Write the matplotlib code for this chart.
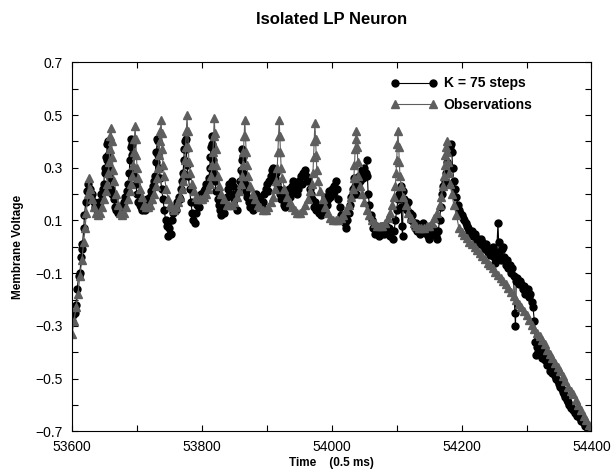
import matplotlib
matplotlib.use("Agg")
import matplotlib.pyplot as plt
from matplotlib.ticker import MultipleLocator, FixedLocator

plt.rcParams['font.family'] = ['Liberation Sans', 'DejaVu Sans']

obs_points = [
    (53600, -0.33), (53603, -0.28), (53606, -0.23), (53609, -0.18), (53612, -0.11),
    (53615, -0.05), (53618, 0.02), (53620, 0.07), (53622, 0.13), (53624, 0.20),
    (53626, 0.26), (53628, 0.22), (53631, 0.18), (53634, 0.15), (53637, 0.13),
    (53640, 0.12), (53643, 0.13), (53646, 0.15), (53649, 0.18), (53652, 0.21),
    (53654, 0.24), (53656, 0.28), (53657, 0.32), (53658, 0.37), (53659, 0.42),
    (53660, 0.45), (53661, 0.40), (53662, 0.34), (53663, 0.29), (53665, 0.25),
    (53668, 0.20), (53671, 0.16), (53674, 0.13), (53677, 0.12), (53680, 0.13),
    (53683, 0.15), (53686, 0.18), (53689, 0.21), (53691, 0.24), (53693, 0.27),
    (53694, 0.31), (53695, 0.36), (53696, 0.41), (53697, 0.46), (53698, 0.41),
    (53699, 0.35), (53700, 0.30), (53702, 0.26), (53705, 0.22), (53708, 0.19),
    (53711, 0.16), (53714, 0.15), (53717, 0.15), (53720, 0.16), (53723, 0.18),
    (53726, 0.20), (53729, 0.23), (53731, 0.26), (53733, 0.30), (53734, 0.35),
    (53735, 0.40), (53736, 0.44), (53737, 0.48), (53738, 0.43), (53739, 0.37),
    (53740, 0.31), (53742, 0.27), (53745, 0.22), (53748, 0.18), (53751, 0.16),
    (53754, 0.15), (53757, 0.14), (53760, 0.15), (53763, 0.17), (53766, 0.19),
    (53769, 0.22), (53771, 0.25), (53773, 0.28), (53774, 0.33), (53775, 0.38),
    (53776, 0.44), (53777, 0.50), (53778, 0.44), (53779, 0.38), (53780, 0.32),
    (53782, 0.28), (53785, 0.24), (53788, 0.21), (53791, 0.19), (53794, 0.18),
    (53797, 0.18), (53800, 0.18), (53803, 0.19), (53806, 0.20), (53809, 0.22),
    (53812, 0.24), (53814, 0.27), (53816, 0.31), (53817, 0.36), (53818, 0.42),
    (53819, 0.49), (53820, 0.43), (53821, 0.37), (53822, 0.31), (53824, 0.27),
    (53827, 0.23), (53830, 0.20), (53834, 0.18), (53838, 0.16), (53842, 0.16),
    (53846, 0.16), (53850, 0.17), (53854, 0.19), (53857, 0.21), (53860, 0.24),
    (53862, 0.27), (53863, 0.31), (53864, 0.36), (53865, 0.42), (53866, 0.48),
    (53867, 0.42), (53868, 0.36), (53869, 0.31), (53871, 0.27), (53874, 0.23),
    (53878, 0.20), (53882, 0.18), (53886, 0.16), (53890, 0.15), (53894, 0.14),
    (53898, 0.14), (53902, 0.15), (53906, 0.17), (53909, 0.19), (53912, 0.22),
    (53914, 0.25), (53916, 0.30), (53917, 0.36), (53918, 0.42), (53919, 0.48),
    (53920, 0.42), (53921, 0.36), (53922, 0.30), (53924, 0.26), (53927, 0.22),
    (53931, 0.19), (53935, 0.17), (53939, 0.15), (53943, 0.14), (53947, 0.13),
    (53951, 0.13), (53955, 0.14), (53959, 0.16), (53963, 0.18), (53966, 0.21),
    (53969, 0.24), (53971, 0.28), (53972, 0.34), (53973, 0.40), (53974, 0.47),
    (53975, 0.41), (53976, 0.35), (53977, 0.29), (53979, 0.25), (53982, 0.21),
    (53986, 0.18), (53990, 0.15), (53994, 0.13), (53998, 0.11), (54002, 0.10),
    (54006, 0.10), (54010, 0.10), (54014, 0.11), (54018, 0.12), (54022, 0.14),
    (54026, 0.16), (54029, 0.19), (54032, 0.22), (54034, 0.26), (54035, 0.31),
    (54036, 0.37), (54037, 0.41), (54038, 0.44), (54039, 0.38), (54040, 0.32),
    (54041, 0.27), (54043, 0.23), (54046, 0.20), (54050, 0.17), (54054, 0.14),
    (54058, 0.12), (54062, 0.10), (54066, 0.09), (54070, 0.08), (54074, 0.08),
    (54078, 0.08), (54082, 0.09), (54086, 0.11), (54090, 0.13), (54093, 0.16),
    (54096, 0.19), (54098, 0.23), (54099, 0.28), (54100, 0.33), (54101, 0.39),
    (54102, 0.44), (54103, 0.38), (54104, 0.32), (54105, 0.27), (54107, 0.23),
    (54110, 0.19), (54114, 0.16), (54118, 0.13), (54122, 0.11), (54126, 0.09),
    (54130, 0.08), (54134, 0.07), (54138, 0.07), (54142, 0.07), (54146, 0.08),
    (54150, 0.08), (54154, 0.09), (54158, 0.11), (54162, 0.13), (54166, 0.16),
    (54169, 0.19), (54171, 0.23), (54173, 0.27), (54174, 0.31), (54175, 0.35),
    (54176, 0.38), (54177, 0.40), (54178, 0.36), (54179, 0.32), (54180, 0.28),
    (54182, 0.24), (54185, 0.20), (54188, 0.16), (54192, 0.12), (54196, 0.07),
    (54200, 0.055), (54204, 0.045), (54208, 0.035), (54212, 0.02), (54216, 0.01),
    (54220, 0.0), (54224, -0.012), (54228, -0.024), (54232, -0.036), (54236, -0.047),
    (54240, -0.06), (54244, -0.07), (54248, -0.082), (54252, -0.094), (54256, -0.105),
    (54260, -0.117), (54264, -0.13), (54268, -0.142), (54272, -0.155), (54276, -0.17),
    (54280, -0.185), (54284, -0.20), (54288, -0.215), (54292, -0.23), (54296, -0.245),
    (54300, -0.26), (54304, -0.278), (54308, -0.295), (54312, -0.31), (54316, -0.325),
    (54320, -0.34), (54324, -0.355), (54328, -0.37), (54332, -0.39), (54336, -0.405),
    (54340, -0.42), (54344, -0.44), (54348, -0.455), (54352, -0.47), (54356, -0.49),
    (54360, -0.51), (54364, -0.53), (54368, -0.545), (54372, -0.56), (54376, -0.58),
    (54380, -0.60), (54384, -0.62), (54388, -0.64), (54392, -0.655), (54396, -0.675),
    (54400, -0.69),
]

# model prediction with K = 75 steps
model_points = [
    (53600, -0.28), (53602, -0.26), (53604, -0.25), (53606, -0.22), (53608, -0.16),
    (53610, -0.11), (53612, -0.10), (53614, -0.04), (53615, -0.01), (53616, 0.01),
    (53618, 0.07), (53619, 0.12), (53621, 0.17), (53623, 0.21), (53625, 0.24),
    (53627, 0.22), (53629, 0.19), (53631, 0.20), (53633, 0.17), (53635, 0.15),
    (53637, 0.16), (53639, 0.14), (53641, 0.17), (53643, 0.17), (53645, 0.20),
    (53647, 0.22), (53649, 0.24), (53650, 0.30), (53651, 0.28), (53652, 0.34),
    (53653, 0.33), (53654, 0.39), (53655, 0.40), (53656, 0.35), (53657, 0.30),
    (53658, 0.26), (53660, 0.22), (53662, 0.20), (53664, 0.18), (53666, 0.15),
    (53668, 0.14), (53670, 0.13), (53672, 0.14), (53674, 0.13), (53676, 0.14),
    (53678, 0.16), (53680, 0.17), (53682, 0.19), (53684, 0.21), (53686, 0.24),
    (53688, 0.28), (53689, 0.33), (53690, 0.38), (53691, 0.41), (53692, 0.39),
    (53693, 0.35), (53694, 0.30), (53696, 0.27), (53698, 0.24), (53700, 0.20),
    (53702, 0.17), (53704, 0.16), (53706, 0.15), (53708, 0.14), (53710, 0.15),
    (53712, 0.14), (53714, 0.16), (53716, 0.18), (53718, 0.17), (53720, 0.19),
    (53722, 0.21), (53724, 0.23), (53726, 0.25), (53728, 0.27), (53729, 0.32),
    (53730, 0.36), (53731, 0.41), (53732, 0.40), (53733, 0.35), (53734, 0.30),
    (53736, 0.26), (53738, 0.22), (53740, 0.18), (53742, 0.14), (53744, 0.10),
    (53746, 0.08), (53748, 0.04), (53750, 0.07), (53752, 0.05), (53754, 0.10),
    (53756, 0.13), (53758, 0.15), (53760, 0.14), (53762, 0.17), (53764, 0.19),
    (53766, 0.18), (53768, 0.22), (53770, 0.25), (53771, 0.28), (53772, 0.33),
    (53773, 0.37), (53774, 0.40), (53775, 0.41), (53776, 0.37), (53777, 0.31),
    (53779, 0.27), (53781, 0.22), (53783, 0.17), (53785, 0.13), (53787, 0.10),
    (53789, 0.09), (53791, 0.13), (53793, 0.16), (53795, 0.15), (53797, 0.18),
    (53799, 0.20), (53801, 0.19), (53803, 0.21), (53805, 0.22), (53807, 0.24),
    (53809, 0.23), (53811, 0.26), (53812, 0.30), (53813, 0.34), (53814, 0.38),
    (53815, 0.42), (53816, 0.39), (53817, 0.33), (53818, 0.28), (53820, 0.25),
    (53822, 0.21), (53824, 0.18), (53826, 0.16), (53828, 0.14), (53830, 0.12),
    (53832, 0.15), (53834, 0.13), (53836, 0.16), (53838, 0.19), (53840, 0.22),
    (53842, 0.24), (53844, 0.20), (53846, 0.25), (53848, 0.23), (53850, 0.18),
    (53852, 0.20), (53854, 0.14), (53856, 0.22), (53858, 0.25), (53860, 0.29),
    (53861, 0.33), (53862, 0.37), (53863, 0.34), (53864, 0.28), (53866, 0.24),
    (53868, 0.21), (53870, 0.19), (53872, 0.17), (53874, 0.15), (53876, 0.16),
    (53878, 0.14), (53880, 0.17), (53882, 0.18), (53884, 0.20), (53886, 0.17),
    (53888, 0.19), (53890, 0.16), (53892, 0.15), (53894, 0.17), (53896, 0.20),
    (53898, 0.22), (53900, 0.24), (53902, 0.21), (53904, 0.25), (53906, 0.27),
    (53908, 0.29), (53910, 0.30), (53912, 0.26), (53914, 0.28), (53916, 0.24),
    (53918, 0.22), (53920, 0.20), (53922, 0.18), (53924, 0.20), (53926, 0.16),
    (53928, 0.15), (53930, 0.18), (53932, 0.20), (53934, 0.22), (53936, 0.19),
    (53938, 0.23), (53940, 0.25), (53942, 0.21), (53944, 0.24), (53946, 0.20),
    (53948, 0.22), (53950, 0.25), (53952, 0.27), (53954, 0.24), (53956, 0.28),
    (53958, 0.29), (53960, 0.27), (53962, 0.25), (53964, 0.26), (53966, 0.22),
    (53968, 0.20), (53970, 0.18), (53972, 0.15), (53974, 0.17), (53976, 0.14),
    (53978, 0.16), (53980, 0.13), (53982, 0.15), (53984, 0.12), (53986, 0.14),
    (53988, 0.17), (53990, 0.19), (53992, 0.16), (53994, 0.18), (53996, 0.21),
    (53998, 0.19), (54000, 0.22), (54002, 0.20), (54004, 0.23), (54006, 0.25),
    (54008, 0.22), (54010, 0.18), (54012, 0.15), (54014, 0.12), (54016, 0.10),
    (54018, 0.12), (54020, 0.09), (54022, 0.07), (54024, 0.10), (54026, 0.13),
    (54028, 0.16), (54030, 0.19), (54032, 0.22), (54034, 0.26), (54036, 0.23),
    (54038, 0.20), (54040, 0.24), (54042, 0.27), (54044, 0.25), (54046, 0.29),
    (54048, 0.26), (54050, 0.30), (54052, 0.28), (54054, 0.33), (54055, 0.27),
    (54056, 0.20), (54058, 0.16), (54060, 0.12), (54062, 0.10), (54064, 0.07),
    (54066, 0.05), (54068, 0.08), (54070, 0.06), (54072, 0.04), (54074, 0.07),
    (54076, 0.05), (54078, 0.08), (54080, 0.05), (54082, 0.07), (54084, 0.08),
    (54086, 0.05), (54088, 0.07), (54090, 0.04), (54092, 0.06), (54094, 0.03),
    (54096, 0.06), (54098, 0.10), (54100, 0.14), (54102, 0.18), (54104, 0.20),
    (54106, 0.23), (54107, 0.15), (54108, 0.08), (54109, 0.04), (54110, 0.21),
    (54112, 0.18), (54114, 0.16), (54116, 0.14), (54118, 0.17), (54120, 0.13),
    (54122, 0.10), (54124, 0.12), (54126, 0.09), (54128, 0.07), (54130, 0.09),
    (54132, 0.06), (54134, 0.08), (54136, 0.05), (54138, 0.07), (54140, 0.09),
    (54142, 0.06), (54144, 0.08), (54146, 0.05), (54148, 0.04), (54150, 0.03),
    (54152, 0.06), (54154, 0.05), (54156, 0.07), (54158, 0.05), (54160, 0.04),
    (54162, 0.03), (54164, 0.06), (54166, 0.10), (54168, 0.15), (54170, 0.20),
    (54172, 0.23), (54174, 0.25), (54176, 0.28), (54178, 0.32), (54180, 0.36),
    (54182, 0.38), (54184, 0.39), (54185, 0.36), (54186, 0.30), (54188, 0.25),
    (54190, 0.22), (54192, 0.19), (54194, 0.16), (54196, 0.14), (54198, 0.13),
    (54200, 0.12), (54202, 0.11), (54204, 0.10), (54206, 0.09), (54208, 0.08),
    (54210, 0.07), (54212, 0.06), (54214, 0.05), (54216, 0.06), (54218, 0.04),
    (54220, 0.05), (54222, 0.03), (54224, 0.02), (54226, 0.03), (54228, 0.01),
    (54230, 0.03), (54232, 0.02), (54234, 0.0), (54236, -0.01), (54238, 0.01),
    (54240, -0.02), (54242, -0.01), (54244, -0.03), (54246, -0.02), (54248, 0.00),
    (54250, -0.04), (54252, -0.06), (54254, -0.02), (54256, 0.09), (54257, 0.02),
    (54258, -0.03), (54260, -0.05), (54262, -0.01), (54264, 0.00), (54266, -0.04),
    (54268, -0.07), (54270, -0.05), (54272, -0.08), (54274, -0.07), (54276, -0.10),
    (54278, -0.08), (54280, -0.11), (54282, -0.25), (54283, -0.30), (54284, -0.13),
    (54286, -0.12), (54288, -0.14), (54290, -0.13), (54292, -0.14), (54294, -0.16),
    (54296, -0.15), (54298, -0.18), (54300, -0.17), (54302, -0.16), (54304, -0.19),
    (54306, -0.18), (54308, -0.21), (54310, -0.23), (54312, -0.28), (54313, -0.36),
    (54314, -0.41), (54316, -0.38), (54318, -0.40), (54320, -0.37), (54322, -0.39),
    (54324, -0.42), (54326, -0.40), (54328, -0.43), (54330, -0.42), (54332, -0.45),
    (54334, -0.44), (54336, -0.47), (54338, -0.46), (54340, -0.48), (54342, -0.47),
    (54344, -0.49), (54346, -0.50), (54348, -0.51), (54350, -0.52), (54352, -0.53),
    (54354, -0.54), (54356, -0.55), (54358, -0.56), (54360, -0.57), (54362, -0.58),
    (54364, -0.59), (54366, -0.60), (54368, -0.61), (54370, -0.61), (54372, -0.62),
    (54374, -0.63), (54376, -0.63), (54378, -0.64), (54380, -0.64), (54382, -0.65),
    (54384, -0.66), (54386, -0.66), (54388, -0.67), (54390, -0.68), (54392, -0.68),
    (54394, -0.69), (54396, -0.69), (54398, -0.70), (54400, -0.70),
]

x_ticks = [53600, 53800, 54000, 54200, 54400]
y_ticks = [-0.7, -0.5, -0.3, -0.1, 0.1, 0.3, 0.5, 0.7]

obs_t = [p[0] for p in obs_points]
obs_v = [p[1] for p in obs_points]
mod_t = [p[0] for p in model_points]
mod_v = [p[1] for p in model_points]

fig = plt.figure(figsize=(6.11, 4.72), dpi=100)
ax = fig.add_axes([0.118, 0.086, 0.850, 0.782])

ax.plot(mod_t, mod_v, '-o', color='black', lw=0.8, markersize=5,
        label='K = 75 steps')
ax.plot(obs_t, obs_v, '-^', color='#5e5e5e', lw=0.8, markersize=5.5,
        label='Observations')

ax.set_xlim(53600, 54400)
ax.set_ylim(-0.7, 0.7)
ax.xaxis.set_major_locator(FixedLocator(x_ticks))
ax.xaxis.set_minor_locator(MultipleLocator(100))
ax.yaxis.set_major_locator(FixedLocator(y_ticks))
ax.yaxis.set_minor_locator(MultipleLocator(0.1))
ax.set_yticklabels([f"{v:.1f}".replace('-', '\u2212') for v in y_ticks])
ax.tick_params(which='both', direction='in', top=True, right=True,
               labelsize=10, length=4, width=0.8)
ax.tick_params(axis='x', pad=6)
ax.tick_params(axis='y', pad=7)

ax.set_xlabel('Time    (0.5 ms)', fontsize=8.5, fontweight='bold', labelpad=2)
ax.set_ylabel('Membrane Voltage', fontsize=8.5, fontweight='bold', labelpad=8)
fig.suptitle('Isolated LP Neuron', fontsize=12, fontweight='bold', x=0.543, y=0.975)

leg = ax.legend(loc='upper left', bbox_to_anchor=(0.640, 0.838),
                bbox_transform=fig.transFigure, frameon=False, numpoints=2,
                handlelength=3.3, prop={'weight': 'bold', 'size': 10},
                borderaxespad=0, borderpad=0, labelspacing=0.55,
                handletextpad=0.5)

fig.savefig('out.png', dpi=100)
